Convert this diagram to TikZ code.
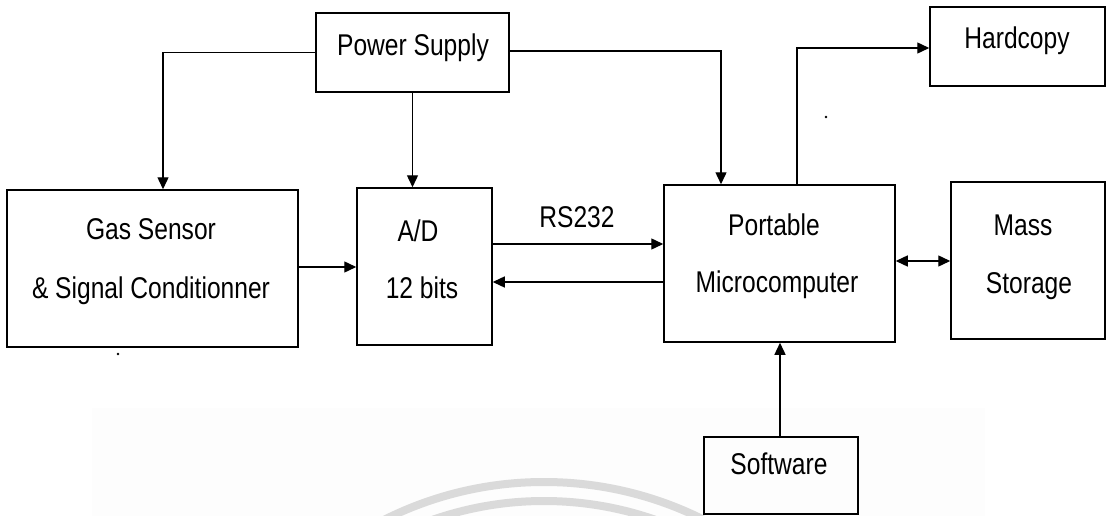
\documentclass[tikz,border=0pt]{standalone}
\usepackage{fontspec}
\setmainfont[FakeStretch=0.82]{Liberation Sans}
\usetikzlibrary{arrows.meta,calc}
\definecolor{wmgray}{RGB}{218,218,218}
\definecolor{wmbg}{RGB}{253,253,253}
\tikzset{
  box/.style={draw, line width=1.5pt, inner sep=0pt, fill=none},
  lbl/.style={inner sep=0pt, anchor=base, font=\fontsize{30}{33}\selectfont},
  conn/.style={line width=1.4pt, -{Triangle[length=12pt,width=11pt]}},
  biconn/.style={line width=1.4pt, {Triangle[length=12pt,width=11pt]}-{Triangle[length=12pt,width=11pt]}},
  speck/.style={fill=black, draw=none}
}
\begin{document}
\begin{tikzpicture}[x=1pt,y=1pt]
\useasboundingbox (0,0) rectangle (1115,-516);
% faint watermark
\begin{scope}
  \clip (0,0) rectangle (1115,-516);
  \fill[wmbg] (92,-408) rectangle (985,-516);
  \draw[wmgray, line width=8pt] (544,-838) circle[radius=356];
  \draw[wmgray, line width=8pt] (544,-838) circle[radius=337];
\end{scope}
% boxes
\node[box, minimum width=193pt, minimum height=79pt] (ps) at (412.5,-52.5) {};
\node[box, minimum width=175pt, minimum height=79pt] (hc) at (1017.5,-46.5) {};
\node[box, minimum width=291pt, minimum height=157pt] (gs) at (152.5,-268.5) {};
\node[box, minimum width=135pt, minimum height=157pt] (ad) at (424.5,-266.5) {};
\node[box, minimum width=231pt, minimum height=157pt] (pm) at (779.5,-263.5) {};
\node[box, minimum width=154pt, minimum height=157pt] (ms) at (1028,-260.5) {};
\node[box, minimum width=154pt, minimum height=77pt] (sw) at (781,-475.5) {};
% labels
\node[lbl] (tps) at (413,-56) {Power Supply};
\node[lbl] (thc) at (1017,-49) {Hardcopy};
\node[lbl] (tgs1) at (151,-239) {Gas Sensor};
\node[lbl] (tgs2) at (151,-298) {\& Signal Conditionner};
\node[lbl] (tad1) at (418,-241) {A/D};
\node[lbl] (tad2) at (422,-298) {12 bits};
\node[lbl] (tpm1) at (774,-235) {Portable};
\node[lbl] (tpm2) at (777,-292) {Microcomputer};
\node[lbl] (tms1) at (1023,-235) {Mass};
\node[lbl] (tms2) at (1029,-293) {Storage};
\node[lbl] (tsw) at (779,-474) {Software};
\node[lbl] (trs) at (577,-227) {RS232};
% connectors
\draw[conn] (ps.west) -| ([xshift=10.5pt]gs.north);
\draw[conn] (ps.south) -- (ps.south |- ad.north);
\draw[conn] ([yshift=1.5pt]ps.east) -| ([xshift=-58.5pt]pm.north);
\draw[conn] ([xshift=17.5pt]pm.north) |- ([yshift=-1.5pt]hc.west);
\draw[conn] ([yshift=1.5pt]gs.east) -- ([yshift=1.5pt]gs.east -| ad.west);
\draw[conn] ([yshift=22.5pt]ad.east) -- ([yshift=22.5pt]ad.east -| pm.west);
\draw[conn] ([yshift=-18.5pt]pm.west) -- ([yshift=-18.5pt]pm.west -| ad.east);
\draw[biconn] ([yshift=2.5pt]pm.east) -- ([yshift=2.5pt]pm.east -| ms.west);
\draw[conn] ([xshift=-1pt]sw.north) -- ([xshift=-1pt]sw.north |- pm.south);
% scan specks
\fill[speck] (826,-117) circle[radius=1.3];
\fill[speck] (118,-354) circle[radius=1.3];
\end{tikzpicture}
\end{document}
